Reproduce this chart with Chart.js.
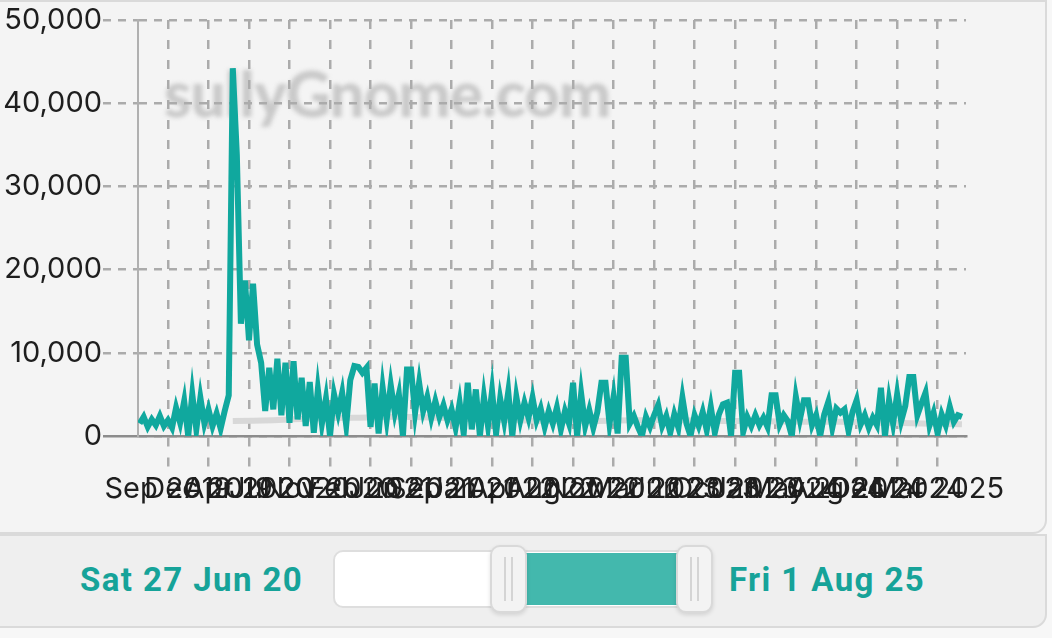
<!DOCTYPE html>
<html>
<head>
<meta charset="utf-8">
<script src="https://cdn.jsdelivr.net/npm/chart.js@4"></script>
<style>
    body { margin: 0; width: 1052px; height: 638px; overflow: hidden; background: #f7f7f7; font-family: Inter, "Liberation Sans", sans-serif; position: relative; }
    .panel { position: absolute; left: -12px; width: 1059px; background: #f4f4f4; border: 2px solid #dadada; border-radius: 0 0 14px 0; box-sizing: border-box; }
    #topPanel { top: 0; height: 534px; }
    #bottomPanel { top: 534px; height: 94px; background: #efefef; }
    #watermark { position: absolute; left: 164px; top: 56px; font: 900 62px Lato, "Open Sans", sans-serif; color: #c9c9c9; filter: blur(2.2px); letter-spacing: -1px; }
    #chartBox { position: absolute; left: 0; top: 0; width: 1045px; height: 530px; }
    .dateText { position: absolute; top: 560px; font: 700 33px Roboto, sans-serif; letter-spacing: 1.4px; color: #16a399; }
    #track { position: absolute; left: 333px; top: 550px; width: 372px; height: 58px; background: #fff; border: 2px solid #dedede; border-radius: 10px; box-sizing: border-box; }
    #fill { position: absolute; left: 520px; top: 553px; width: 165px; height: 52px; background: #43b8ad; }
    .handle { position: absolute; top: 545px; width: 37px; height: 68px; background: #f3f3f3; border: 2px solid #d9d9d9; border-radius: 10px; box-sizing: border-box; box-shadow: 0 2px 4px rgba(0,0,0,0.12); }
    .handle::before, .handle::after { content: ""; position: absolute; top: 10px; bottom: 10px; width: 2px; background: #d4d4d4; }
    .handle::before { left: 12px; }
    .handle::after { left: 19px; }
</style>
</head>
<body>
<div class="panel" id="topPanel"></div>
<div class="panel" id="bottomPanel"></div>
<div id="watermark">sullyGnome.com</div>
<div id="chartBox"><canvas id="viewsChart" width="1045" height="530"></canvas></div>

<div class="dateText" style="left: 80px;">Sat 27 Jun 20</div>
<div id="track"></div>
<div id="fill"></div>
<div class="handle" style="left: 490px;"></div>
<div class="handle" style="left: 676px;"></div>
<div class="dateText" style="left: 729px;">Fri 1 Aug 25</div>

<script>
// x axis labels, one per dashed gridline (they overlap, like the original)
const tickLabels = ['Sep 2019', 'Dec 2019', 'Apr 2020', 'Jul 2020', 'Nov 2020', 'Feb 2021', 'Jun 2021',
    'Sep 2021', 'Jan 2022', 'Apr 2022', 'Aug 2022', 'Nov 2022', 'Mar 2023', 'Jun 2023', 'Oct 2023',
    'Jan 2024', 'May 2024', 'Aug 2024', 'Dec 2024', 'Mar 2025'];
const tickStep = 10;      // data periods between labelled gridlines
const firstPeriod = -7;   // period index of the first value

// viewers per period
const viewers = [
    1500, 2300, 1100, 2000, 1300, 2400, 1200, 1900, 1000, 3400,
    1600, 4200, 0, 5000, 800, 4600, 1500, 3200, 1200, 2700,
    900, 3000, 4900, 44200, 33800, 13500, 18700, 11500, 18300, 11000,
    8800, 3000, 8200, 3200, 9300, 2500, 8800, 1600, 9000, 2000,
    7000, 1200, 6500, 400, 5600, 1500, 4500, 0, 5000, 2800,
    5200, 1300, 6700, 8400, 8300, 7600, 8200, 1100, 6300, 300,
    5800, 2000, 6100, 2800, 5000, 0, 8000, 8000, 2800, 6400,
    3000, 4700, 2200, 4200, 2300, 3700, 1900, 3200, 1000, 4000,
    300, 6400, 800, 5600, 0, 4700, 1200, 5400, 300, 4500,
    1800, 5300, 0, 4700, 1900, 4000, 2200, 4600, 1900, 3300,
    1100, 3000, 1500, 3400, 800, 3000, 1500, 6400, 0, 5100,
    1200, 3100, 1000, 2900, 6400, 6400, 1500, 4700, 300, 9400,
    9400, 1500, 2400, 1100, 0, 2300, 1100, 2500, 3700, 1200,
    2400, 400, 2600, 1000, 4600, 1500, 0, 2500, 1200, 2900,
    700, 3500, 400, 2600, 3800, 4000, 0, 7600, 7600, 500,
    2300, 1200, 2500, 1300, 2200, 1100, 4900, 4900, 1400, 2500,
    1800, 0, 4700, 2000, 4300, 4300, 1300, 2500, 0, 2600,
    4100, 1000, 3300, 2800, 3200, 600, 2900, 4300, 1400, 2500,
    1000, 2200, 1300, 5800, 0, 4300, 1500, 5000, 1800, 3600,
    7100, 7100, 2500, 3900, 5200, 1300, 2800, 300, 2600, 1300,
    3500, 1700, 2500, 2300
];

// faint grey average line underneath
const avgFirstPeriod = 16;
const avgStep = 10;
const avgViewers = [1800, 1900, 2100, 2200, 2300, 2200, 2000, 1900, 1800, 1800,
    1900, 1900, 1800, 1800, 1700, 1700, 1600, 1500, 1400];

const yTicks = [0, 10000, 20000, 30000, 40000, 50000];

const mainPoints = viewers.map((v, i) => ({ x: firstPeriod + i, y: v }));
const avgPoints = avgViewers.map((v, i) => ({ x: avgFirstPeriod + i * avgStep, y: v }));

const axisFont = { family: 'Inter, "Liberation Sans", sans-serif', size: 29 };
const gridGrey = '#ababab';

const ctx = document.getElementById('viewsChart').getContext('2d');
new Chart(ctx, {
    type: 'line',
    data: {
        datasets: [{
            label: 'Viewers',
            data: mainPoints,
            borderColor: '#10a89e',
            borderWidth: 6,
            pointRadius: 0,
            tension: 0,
            order: 0
        }, {
            label: 'Average',
            data: avgPoints,
            borderColor: '#d8d8d8',
            borderWidth: 6,
            pointRadius: 0,
            tension: 0.3,
            order: 1
        }]
    },
    options: {
        responsive: false,
        animation: false,
        layout: { padding: { top: 20, right: 79, left: 0, bottom: 0 } },
        plugins: {
            legend: { display: false },
            tooltip: { enabled: false }
        },
        scales: {
            x: {
                type: 'linear',
                min: firstPeriod - 0.4,
                max: 197,
                afterBuildTicks: function (scale) {
                    scale.ticks = tickLabels.map((_, k) => ({ value: k * tickStep }));
                },
                afterFit: function (scale) { scale.height = 94; },
                ticks: {
                    autoSkip: false,
                    maxRotation: 0,
                    minRotation: 0,
                    padding: 1,
                    color: '#1e1e1e',
                    font: axisFont,
                    callback: (value, index) => tickLabels[index]
                },
                grid: {
                    color: gridGrey,
                    lineWidth: 2.5,
                    tickLength: 35,
                    tickColor: gridGrey,
                    tickWidth: 2.5,
                    tickBorderDash: [9, 11]
                },
                border: { color: '#8c8c8c', width: 2.5, dash: [9, 11] }
            },
            y: {
                min: 0,
                max: 50000,
                afterBuildTicks: function (scale) {
                    scale.ticks = yTicks.map(v => ({ value: v }));
                },
                afterFit: function (scale) { scale.width = 138; },
                ticks: {
                    padding: 1,
                    color: '#1e1e1e',
                    font: axisFont,
                    callback: value => value.toLocaleString('en-US')
                },
                grid: {
                    color: gridGrey,
                    lineWidth: 2.5,
                    tickLength: 35,
                    tickColor: ctx => ctx.tick && ctx.tick.value === 0 ? '#8c8c8c' : gridGrey,
                    tickWidth: 2.5,
                    tickBorderDash: ctx => ctx.tick && ctx.tick.value === 0 ? [] : [8, 7]
                },
                border: { color: '#b0b0b0', width: 2, dash: [8, 7] }
            }
        }
    }
});
</script>
</body>
</html>
